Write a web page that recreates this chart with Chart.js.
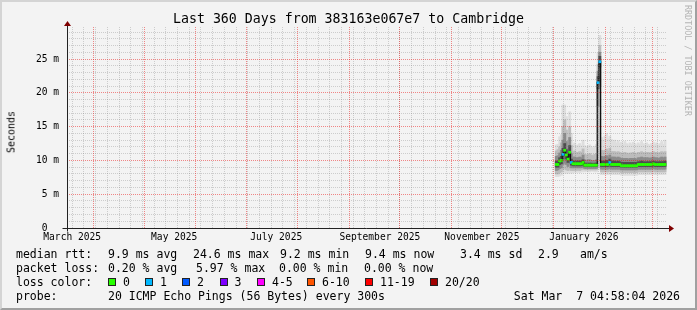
<!DOCTYPE html>
<html>
<head>
<meta charset="utf-8">
<script src="https://cdn.jsdelivr.net/npm/chart.js@4.4.1/dist/chart.umd.min.js"></script>
<style>
html, body { margin: 0; padding: 0; background: #f3f3f3; }
#wrap { position: relative; width: 697px; height: 310px; overflow: hidden; background: #f3f3f3;
  font-family: "DejaVu Sans Mono", monospace; color: #000; }
#frame { position: absolute; left: 0; top: 0; width: 697px; height: 310px; box-sizing: border-box;
  border-style: solid; border-width: 2px; border-color: #d4d4d4 #a0a0a0 #a0a0a0 #d4d4d4; pointer-events: none; }
canvas { position: absolute; left: 0; top: 0; }
.t { position: absolute; white-space: pre; font-size: 11.5px; line-height: 14px; }
.box { position: absolute; width: 6px; height: 6px; border: 1px solid #222; }
#title { position: absolute; left: 0; top: 11px; width: 697px; text-align: center; font-size: 13.25px; line-height: 16px; white-space: pre; }
#unit { position: absolute; left: 11px; top: 132px; transform: translate(-50%, -50%) rotate(-90deg); font-size: 10px; white-space: pre; }
#mark { position: absolute; left: 683px; top: 5px; writing-mode: vertical-rl; font-size: 8.4px; color: #b4b4b4; white-space: pre; }
</style>
</head>
<body>
<div id="wrap">
  <canvas id="c" width="697" height="310"></canvas>
  <div id="title">Last 360 Days from 383163e067e7 to Cambridge</div>
  <div id="unit">Seconds</div>
  <div id="mark">RRDTOOL / TOBI OETIKER</div>

  <div class="t" style="left:16px;top:247px">median rtt:</div>
  <div class="t" style="left:108px;top:247px">9.9 ms avg</div>
  <div class="t" style="left:193px;top:247px">24.6 ms max</div>
  <div class="t" style="left:280px;top:247px">9.2 ms min</div>
  <div class="t" style="left:365px;top:247px">9.4 ms now</div>
  <div class="t" style="left:460px;top:247px">3.4 ms sd</div>
  <div class="t" style="left:538px;top:247px">2.9</div>
  <div class="t" style="left:580px;top:247px">am/s</div>

  <div class="t" style="left:16px;top:261px">packet loss:</div>
  <div class="t" style="left:108px;top:261px">0.20 % avg</div>
  <div class="t" style="left:196px;top:261px">5.97 % max</div>
  <div class="t" style="left:279px;top:261px">0.00 % min</div>
  <div class="t" style="left:364px;top:261px">0.00 % now</div>

  <div class="t" style="left:16px;top:275px">loss color:</div>
  <div id="lossLegend"></div>

  <div class="t" style="left:16px;top:289px">probe:</div>
  <div class="t" style="left:108px;top:289px">20 ICMP Echo Pings (56 Bytes) every 300s</div>
  <div class="t" style="right:17px;top:289px">Sat Mar  7 04:58:04 2026</div>

  <div id="frame"></div>
</div>

<script>
// time axis: days counted from 1 March 2025
const firstDay = 307;

// median rtt per day (ms)
const rttMedian = [
  9.4, 9.4, 9.9, 10.0, 10.9, 11.5, 10.8, 10.2, 11.2, 9.7,
  9.5, 9.5, 9.5, 9.5, 9.5, 9.5, 9.7, 9.3, 9.3, 9.3,
  9.3, 9.3, 9.3, 9.3, 9.3, 21.5, 24.6, 9.4, 9.4, 9.4,
  9.4, 9.4, 9.7, 9.4, 9.4, 9.4, 9.4, 9.4, 9.4, 9.2,
  9.2, 9.2, 9.2, 9.2, 9.2, 9.2, 9.2, 9.2, 9.2, 9.4,
  9.4, 9.4, 9.4, 9.4, 9.4, 9.4, 9.4, 9.4, 9.5, 9.4,
  9.4, 9.4, 9.4, 9.4, 9.4, 9.4
];
// lost pings out of 20 per day
const lostPings = [
  0, 0, 0, 0, 1, 0, 0, 0, 0, 1,
  0, 0, 0, 0, 0, 0, 0, 0, 0, 0,
  0, 0, 0, 0, 0, 1, 1, 0, 0, 0,
  0, 0, 1, 0, 0, 0, 0, 0, 0, 0,
  0, 0, 0, 0, 0, 0, 0, 0, 0, 0,
  0, 0, 0, 0, 0, 0, 0, 0, 0, 0,
  0, 0, 0, 0, 0, 0
];
// smoke: spread of the 20 pings (ms)
const rttLo = [
  7.6, 7.6, 7.7, 7.8, 8.0, 8.2, 8.1, 8.1, 8.2, 8.1,
  8.2, 8.2, 8.2, 8.3, 8.2, 8.3, 8.3, 8.3, 8.4, 8.3,
  8.3, 8.4, 8.4, 8.3, 8.3, 8.6, 8.6, 7.9, 7.9, 7.9,
  7.9, 7.9, 8.0, 7.9, 7.9, 7.9, 7.9, 7.9, 7.9, 7.8,
  7.8, 7.8, 7.8, 7.8, 7.8, 7.8, 7.8, 7.8, 7.8, 7.9,
  7.9, 7.9, 7.9, 7.9, 7.9, 7.9, 7.9, 7.9, 8.0, 7.9,
  7.9, 7.9, 7.9, 7.9, 7.9, 7.9
];
const rttP10 = [
  8.0, 8.0, 8.2, 8.3, 8.6, 8.8, 8.6, 8.5, 8.7, 8.5,
  8.5, 8.5, 8.5, 8.6, 8.5, 8.6, 8.7, 8.6, 8.6, 8.6,
  8.6, 8.6, 8.6, 8.6, 8.6, 9.0, 9.1, 8.3, 8.3, 8.3,
  8.3, 8.3, 8.4, 8.3, 8.3, 8.3, 8.3, 8.3, 8.3, 8.2,
  8.2, 8.2, 8.2, 8.2, 8.2, 8.2, 8.2, 8.2, 8.2, 8.3,
  8.3, 8.3, 8.3, 8.3, 8.3, 8.3, 8.3, 8.3, 8.4, 8.3,
  8.3, 8.3, 8.3, 8.3, 8.3, 8.3
];
const rttP25 = [
  8.5, 8.6, 8.8, 8.9, 9.4, 9.6, 9.4, 9.1, 9.5, 8.9,
  8.9, 8.9, 8.9, 8.9, 8.9, 8.9, 9.0, 8.8, 8.8, 8.8,
  8.8, 8.8, 8.8, 8.8, 8.8, 18.0, 21.0, 8.7, 8.7, 8.7,
  8.7, 8.7, 8.8, 8.7, 8.7, 8.7, 8.7, 8.7, 8.7, 8.6,
  8.6, 8.6, 8.6, 8.6, 8.6, 8.6, 8.6, 8.6, 8.6, 8.7,
  8.7, 8.7, 8.7, 8.7, 8.7, 8.7, 8.7, 8.7, 8.8, 8.7,
  8.7, 8.7, 8.7, 8.7, 8.7, 8.7
];
const rttP40 = [
  9.0, 9.0, 9.4, 9.5, 10.2, 10.7, 10.2, 9.7, 10.5, 9.3,
  9.2, 9.2, 9.2, 9.2, 9.2, 9.2, 9.4, 9.1, 9.1, 9.1,
  9.1, 9.1, 9.1, 9.1, 9.1, 20.6, 23.8, 9.1, 9.1, 9.1,
  9.1, 9.1, 9.3, 9.1, 9.1, 9.1, 9.1, 9.1, 9.1, 9.0,
  9.0, 9.0, 9.0, 9.0, 9.0, 9.0, 9.0, 9.0, 9.0, 9.1,
  9.1, 9.1, 9.1, 9.1, 9.1, 9.1, 9.1, 9.1, 9.2, 9.1,
  9.1, 9.1, 9.1, 9.1, 9.1, 9.1
];
const rttP60 = [
  9.9, 9.9, 10.4, 10.6, 11.8, 12.5, 11.6, 10.9, 12.2, 10.2,
  9.9, 9.9, 9.9, 9.9, 9.9, 9.9, 10.1, 9.6, 9.6, 9.6,
  9.6, 9.6, 9.5, 9.6, 9.6, 22.4, 25.4, 9.9, 9.9, 9.9,
  10.0, 9.9, 10.2, 9.9, 9.9, 9.9, 9.8, 9.9, 9.8, 9.7,
  9.7, 9.7, 9.7, 9.7, 9.7, 9.7, 9.7, 9.7, 9.7, 9.8,
  9.8, 9.9, 9.8, 9.8, 9.8, 9.8, 9.8, 9.8, 9.9, 9.8,
  9.8, 9.8, 9.8, 9.8, 9.8, 9.9
];
const rttP75 = [
  10.6, 10.7, 11.1, 11.5, 13.0, 14.0, 12.8, 11.8, 13.4, 11.0,
  10.5, 10.5, 10.4, 10.4, 10.5, 10.4, 10.8, 10.1, 10.0, 10.1,
  10.1, 10.0, 9.9, 10.0, 10.1, 23.2, 26.0, 10.6, 10.5, 10.6,
  10.7, 10.5, 10.8, 10.5, 10.5, 10.5, 10.4, 10.5, 10.4, 10.3,
  10.3, 10.3, 10.3, 10.2, 10.3, 10.3, 10.3, 10.3, 10.2, 10.4,
  10.4, 10.5, 10.4, 10.4, 10.4, 10.4, 10.3, 10.4, 10.5, 10.4,
  10.4, 10.3, 10.4, 10.5, 10.4, 10.5
];
const rttP90 = [
  11.4, 11.6, 12.0, 12.6, 15.0, 16.0, 14.5, 13.0, 15.0, 12.2,
  11.3, 11.4, 11.2, 11.2, 11.3, 11.2, 11.7, 10.9, 10.8, 10.9,
  11.0, 10.8, 10.7, 10.9, 11.0, 24.2, 27.0, 11.5, 11.4, 11.5,
  11.7, 11.4, 11.8, 11.3, 11.3, 11.3, 11.2, 11.3, 11.2, 11.1,
  11.1, 11.2, 11.1, 11.0, 11.1, 11.1, 11.2, 11.1, 11.0, 11.2,
  11.2, 11.3, 11.2, 11.1, 11.2, 11.2, 11.1, 11.2, 11.3, 11.2,
  11.2, 11.1, 11.2, 11.3, 11.2, 11.3
];
const rttHi = [
  12.3, 12.4, 13.5, 13.8, 18.2, 18.2, 16.5, 14.5, 17.2, 14.0,
  12.4, 12.6, 12.2, 12.3, 12.5, 12.2, 13.0, 12.2, 11.9, 12.1,
  12.3, 12.0, 11.8, 12.1, 12.4, 25.9, 28.5, 13.4, 13.0, 13.6,
  14.0, 13.2, 13.6, 13.1, 12.8, 13.0, 12.6, 12.9, 12.5, 12.7,
  12.4, 12.8, 12.5, 12.3, 12.6, 12.4, 12.7, 12.5, 12.3, 12.6,
  12.4, 12.8, 12.5, 12.3, 12.6, 12.4, 12.2, 12.5, 12.7, 12.4,
  12.6, 12.3, 12.5, 12.8, 12.4, 13.0
];

// month starts (days from 1 Mar 2025) and the labelled ones
const monthStarts = [0, 31, 61, 92, 122, 153, 184, 214, 245, 275, 306, 337, 365];
const monthLabels = ['March 2025', 'May 2025', 'July 2025', 'September 2025', 'November 2025', 'January 2026'];
const labelMonths = [0, 61, 122, 184, 245, 306];
const yTicks = [0, 5, 10, 15, 20, 25];
const yLabels = ['0  ', '5 m', '10 m', '15 m', '20 m', '25 m'];

const lossNames = ['0', '1', '2', '3', '4-5', '6-10', '11-19', '20/20'];
const lossColors = ['#26ff00', '#00b8ff', '#0059ff', '#7e00ff', '#ff00ff', '#ff5500', '#ff0000', '#a10000'];

const xMin = 14.9, xMax = 373.7, yMax = 29.74;
const days = rttMedian.map((v, i) => firstDay + i);

// legend for loss colours
const boxLeft = [108, 145, 182, 219.5, 257, 307, 365, 430];
let lg = '';
lossNames.forEach((n, i) => {
  lg += `<div class="box" style="left:${boxLeft[i]}px;top:278px;background:${lossColors[i]}"></div>`;
  lg += `<div class="t" style="left:${boxLeft[i] + 15}px;top:275px">${n}</div>`;
});
document.getElementById('lossLegend').innerHTML = lg;

function band(lo, hi, color, order) {
  return {
    type: 'bar', order: order, grouped: false, barThickness: 2.2,
    backgroundColor: color, borderWidth: 0, xAxisID: 'x', yAxisID: 'y',
    data: days.map((d, i) => ({x: d + 0.5, y: [lo[i], hi[i]]}))
  };
}

const stepLine = days.map((d, i) => ({x: d, y: rttMedian[i]}));
stepLine.push({x: days[days.length - 1] + 1, y: rttMedian[rttMedian.length - 1]});

const tickFont = {family: 'DejaVu Sans Mono', size: 9.6};
const minorGrid = 'rgba(120,120,120,0.32)';
const majorGrid = 'rgba(235,0,0,0.45)';

const axisArrows = {
  id: 'axisArrows',
  afterDraw(chart) {
    const {ctx, chartArea: a} = chart;
    const x0 = Math.round(a.left) + 0.5, y0 = Math.round(a.bottom) + 0.5;
    ctx.save();
    ctx.strokeStyle = '#222';
    ctx.lineWidth = 1;
    ctx.beginPath();
    ctx.moveTo(x0 - 5, y0); ctx.lineTo(a.right + 3, y0);
    ctx.moveTo(x0, y0 + 3); ctx.lineTo(x0, a.top - 2);
    ctx.stroke();
    ctx.fillStyle = '#7f0000';
    ctx.beginPath();
    ctx.moveTo(a.right + 2, y0 - 3.5); ctx.lineTo(a.right + 7, y0); ctx.lineTo(a.right + 2, y0 + 3.5);
    ctx.fill();
    ctx.beginPath();
    ctx.moveTo(x0 - 3.5, a.top - 1); ctx.lineTo(x0, a.top - 6); ctx.lineTo(x0 + 3.5, a.top - 1);
    ctx.fill();
    ctx.restore();
  }
};

new Chart(document.getElementById('c'), {
  type: 'bar',
  data: {
    datasets: [
      band(rttLo, rttHi, '#dedede', 10),
      band(rttP10, rttP90, '#bcbcbc', 9),
      band(rttP25, rttP75, '#8c8c8c', 8),
      band(rttP40, rttP60, '#4e4e4e', 7),
      {
        type: 'line', order: 2, stepped: true, xAxisID: 'x', yAxisID: 'y',
        borderColor: '#111', borderWidth: 1.2, pointRadius: 0, data: stepLine
      },
      {
        type: 'bar', order: 1, grouped: false, barThickness: 2.2, borderWidth: 0,
        xAxisID: 'x', yAxisID: 'y',
        backgroundColor: lostPings.map(l => lossColors[l]),
        data: days.map((d, i) => ({x: d + 0.5, y: [rttMedian[i] - 0.15, rttMedian[i] + 0.15]}))
      }
    ]
  },
  options: {
    responsive: false,
    animation: false,
    layout: {padding: {top: 27, right: 30, bottom: 62, left: 0}},
    plugins: {legend: {display: false}, tooltip: {enabled: false}},
    scales: {
      x: {
        type: 'linear', position: 'bottom', min: xMin, max: xMax, offset: false,
        afterBuildTicks: s => { s.ticks = labelMonths.map(m => ({value: m + 18})); },
        afterFit: s => { s.height = 20; },
        grid: {display: false, drawTicks: false, offset: false},
        border: {display: false},
        ticks: {
          autoSkip: false, maxRotation: 0, minRotation: 0, padding: 4,
          font: tickFont, color: '#000',
          callback: (v, i) => monthLabels[i]
        }
      },
      xMajor: {
        type: 'linear', position: 'bottom', min: xMin, max: xMax, offset: false,
        afterBuildTicks: s => { s.ticks = monthStarts.filter(m => m > xMin && m < xMax).map(m => ({value: m})); },
        afterFit: s => { s.height = 0; },
        grid: {color: majorGrid, lineWidth: 1, drawTicks: false, offset: false, z: 2},
        border: {display: false, dash: [1, 1]},
        ticks: {display: false}
      },
      xMinor: {
        type: 'linear', position: 'bottom', min: xMin, max: xMax, offset: false,
        afterBuildTicks: s => {
          const t = [];
          for (let d = 11; d < xMax; d += 7) if (d > xMin) t.push({value: d});
          s.ticks = t;
        },
        afterFit: s => { s.height = 0; },
        grid: {color: minorGrid, lineWidth: 1, drawTicks: false, offset: false, z: 1},
        border: {display: false, dash: [1, 1]},
        ticks: {display: false}
      },
      y: {
        type: 'linear', position: 'left', min: 0, max: yMax,
        afterBuildTicks: s => { s.ticks = yTicks.map(v => ({value: v})); },
        afterFit: s => { s.width = 67; },
        grid: {color: majorGrid, lineWidth: 1, drawTicks: false, z: 2},
        border: {display: false, dash: [1, 1]},
        ticks: {padding: 8, font: tickFont, color: '#000', callback: (v, i) => yLabels[i]}
      },
      yMinor: {
        type: 'linear', position: 'left', min: 0, max: yMax,
        afterBuildTicks: s => {
          const t = [];
          for (let v = 1; v < yMax; v++) if (v % 5) t.push({value: v});
          s.ticks = t;
        },
        afterFit: s => { s.width = 0; },
        grid: {color: minorGrid, lineWidth: 1, drawTicks: false, z: 1},
        border: {display: false, dash: [1, 1]},
        ticks: {display: false}
      }
    }
  },
  plugins: [axisArrows]
});
</script>
</body>
</html>
